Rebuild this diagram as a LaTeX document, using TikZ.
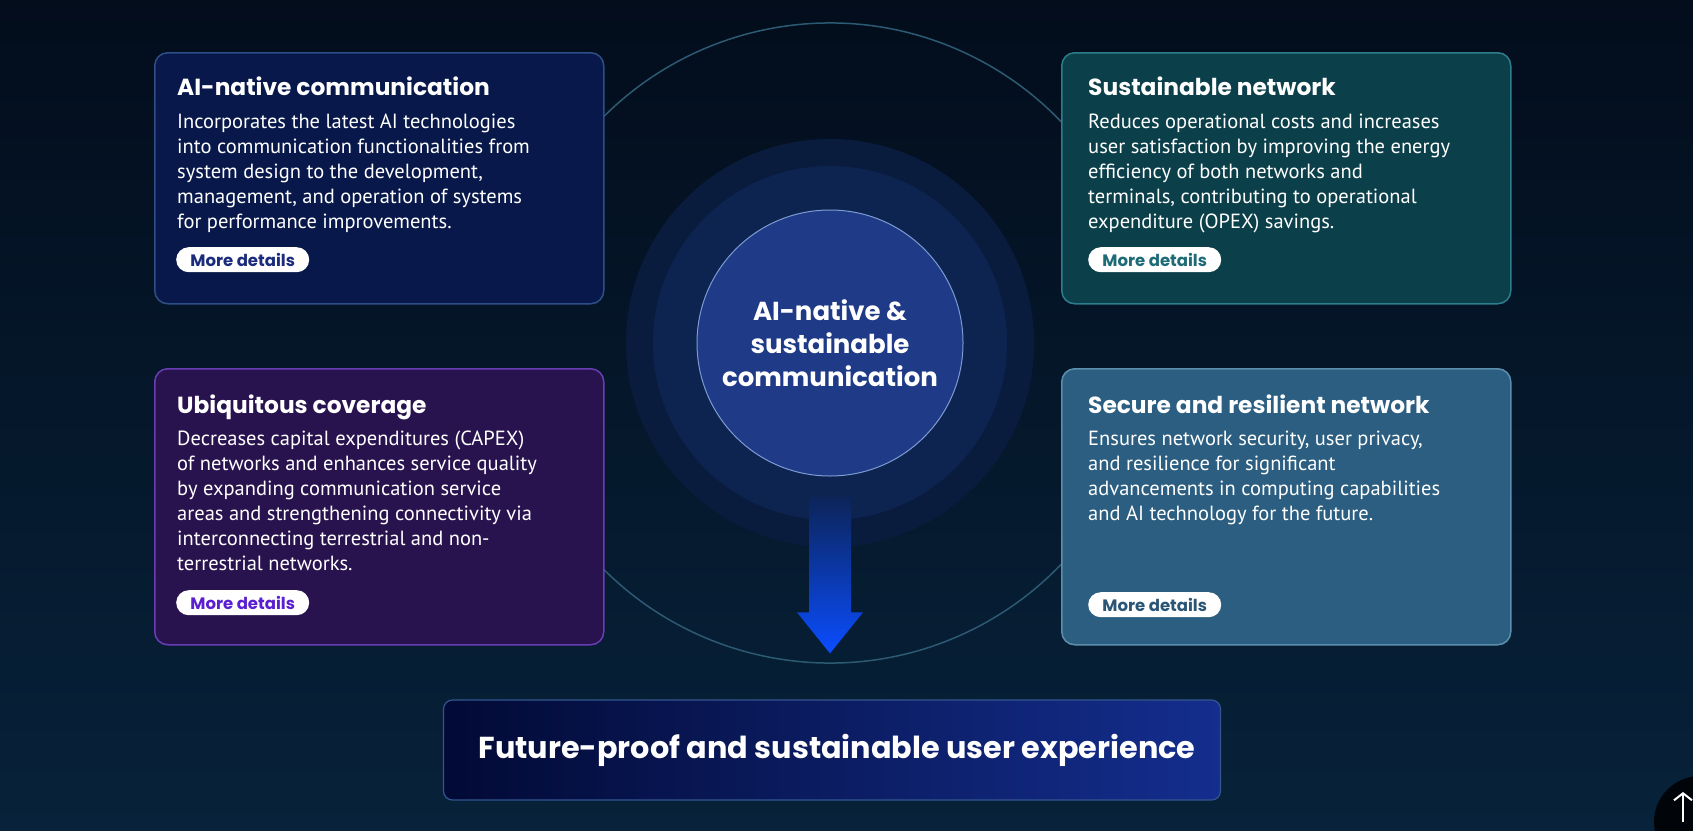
\documentclass[tikz,border=0pt]{standalone}
\usepackage{fontspec}
\setmainfont{PT Sans}
\newfontfamily\headfont{Poppins}
\definecolor{bgTop}{HTML}{030D1C}
\definecolor{bgBot}{HTML}{07223A}
\definecolor{AIfill}{HTML}{08184A}
\definecolor{AIedge}{HTML}{2E4F86}
\definecolor{AIpill}{HTML}{1B2C7C}
\definecolor{SNfill}{HTML}{0B3F4A}
\definecolor{SNedge}{HTML}{2D7D8C}
\definecolor{SNpill}{HTML}{1E6B78}
\definecolor{UCfill}{HTML}{29134F}
\definecolor{UCedge}{HTML}{6B3DB5}
\definecolor{UCpill}{HTML}{5A1FD0}
\definecolor{SRfill}{HTML}{2B5E80}
\definecolor{SRedge}{HTML}{5C8FAE}
\definecolor{SRpill}{HTML}{2B5575}
\definecolor{orbit}{HTML}{2C5A72}
\definecolor{haloOut}{HTML}{0A1C3E}
\definecolor{haloIn}{HTML}{0D2450}
\definecolor{coreFill}{HTML}{1F3A86}
\definecolor{coreEdge}{HTML}{7C9BD3}
\definecolor{arrowTop}{HTML}{0C2458}
\definecolor{arrowMid}{HTML}{062C8E}
\definecolor{arrowBot}{HTML}{0A4DFF}
\definecolor{goalLeft}{HTML}{020A35}
\definecolor{goalRight}{HTML}{142E8E}
\definecolor{goalEdge}{HTML}{34558F}
\usetikzlibrary{arrows.meta,calc,positioning}

\begin{document}
\begin{tikzpicture}[x=1pt,y=-1pt,
  card/.style 2 args={draw=#2,fill=#1,line width=1.5pt,rounded corners=13pt,
    minimum width=449pt,anchor=north west,inner sep=0pt},
  head/.style={font=\headfont\bfseries\fontsize{23.3}{27}\selectfont,text=white,
    anchor=base west,inner sep=0pt},
  body/.style={font=\fontsize{20.5}{25}\selectfont,text=white,align=left,
    anchor=north west,inner sep=0pt},
  pill/.style={fill=white,rounded corners=12.5pt,minimum width=133pt,minimum height=25pt,
    inner sep=0pt,anchor=north west,font=\headfont\bfseries\fontsize{16.5}{19}\selectfont},
  orbitline/.style={draw=orbit,line width=1.5pt}]
  \useasboundingbox (0,0) rectangle (1693,830);
  \shade[top color=bgTop,bottom color=bgBot] (0,0) rectangle (1693,830);

  \coordinate (hub) at (830,343);
  \draw[orbitline] ($(hub)+(210:320)$) arc[start angle=210,end angle=330,radius=320];
  \draw[orbitline] ($(hub)+(150:320)$) arc[start angle=150,end angle=30,radius=320];
  \node[circle,fill=haloOut,minimum size=408pt] (halo) at (hub) {};
  \node[circle,fill=haloIn,minimum size=354pt] (glow) at (hub) {};
  \node[circle,fill=coreFill,draw=coreEdge,line width=1pt,minimum size=266pt,align=center,
    text=white,font=\headfont\bfseries\fontsize{26}{33}\selectfont] (core) at (hub)
    {AI-native \&\\sustainable\\communication};

  \node[draw=goalEdge,line width=1.2pt,rounded corners=9pt,left color=goalLeft,right color=goalRight,
    minimum width=777pt,minimum height=100pt,text=white,
    font=\headfont\bfseries\fontsize{30.3}{35}\selectfont] (goal) at (832,750)
    {\hspace*{10pt}Future-proof and sustainable user experience};
  \coordinate (tip) at ($(goal.north)+(-2,-46)$);
  \shade[top color=arrowTop,middle color=arrowMid,bottom color=arrowBot]
    ($(core.south)+(-21,20)$) -- ($(core.south)+(21,20)$) -- ($(tip)+(21,-41)$)
    -- ($(tip)+(33,-41)$) -- (tip) -- ($(tip)+(-33,-41)$) -- ($(tip)+(-21,-41)$) -- cycle;

  \foreach \n/\x/\y/\h/\fc/\ec in {ai/154/52/251/AIfill/AIedge,sn/1061/52/251/SNfill/SNedge,
      uc/154/368/276/UCfill/UCedge,sr/1061/368/276/SRfill/SRedge}
    \node[card={\fc}{\ec},minimum height=\h pt] (\n) at (\x,\y) {};

  \node[head] (aiHead) at ($(ai.north west)+(23,43)$) {AI-native communication};
  \node[body] (aiBody) at ($(ai.north west)+(23,62)$)
    {Incorporates the latest AI technologies\\into communication functionalities from\\
     system design to the development,\\management, and operation of systems\\
     for performance improvements.};
  \node[head] (snHead) at ($(sn.north west)+(27,43)$) {Sustainable network};
  \node[body] (snBody) at ($(sn.north west)+(27,62)$)
    {Reduces operational costs and increases\\user satisfaction by improving the energy\\
     efficiency of both networks and\\terminals, contributing to operational\\
     expenditure (OPEX) savings.};
  \node[head] (ucHead) at ($(uc.north west)+(23,45)$) {Ubiquitous coverage};
  \node[body] (ucBody) at ($(uc.north west)+(23,63)$)
    {Decreases capital expenditures (CAPEX)\\of networks and enhances service quality\\
     by expanding communication service\\areas and strengthening connectivity via\\
     interconnecting terrestrial and non-\\terrestrial networks.};
  \node[head] (srHead) at ($(sr.north west)+(27,45)$) {Secure and resilient network};
  \node[body] (srBody) at ($(sr.north west)+(27,63)$)
    {Ensures network security, user privacy,\\and resilience for significant\\
     advancements in computing capabilities\\and AI technology for the future.};

  \foreach \n/\dx/\dy/\pc in {ai/22/195/AIpill,sn/27/195/SNpill,uc/22/222/UCpill,sr/27/224/SRpill}
    \node[pill,text=\pc] (\n Pill) at ($(\n.north west)+(\dx,\dy)$) {More details};

  \node[circle,fill=black!85!bgBot,minimum size=92pt] (top) at (1700,822) {};
  \draw[white,line width=2pt,-{Straight Barb[length=7pt,width=18pt]}]
    ($(top.center)+(-17,0)$) -- ($(top.center)+(-17,-30)$);
\end{tikzpicture}
\end{document}
